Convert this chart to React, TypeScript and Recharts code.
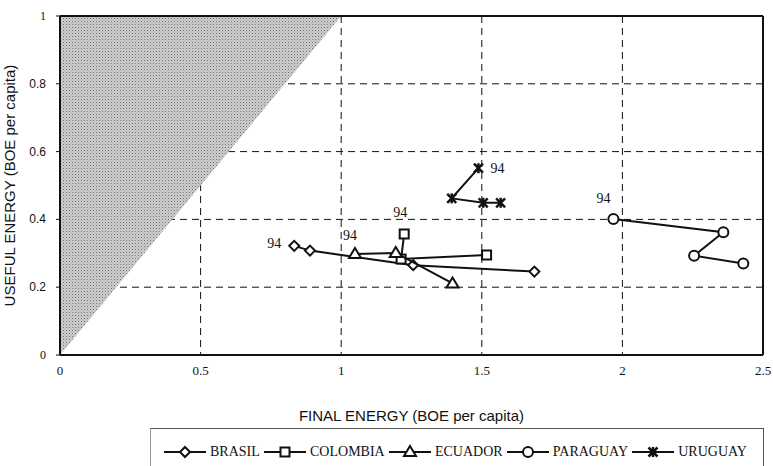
import React from 'react';
import { ComposedChart, Scatter, Area, XAxis, YAxis, CartesianGrid, ReferenceLine, Label } from 'recharts';

// ---- data ----
const brasilX = [0.833, 0.889, 1.256, 1.687];
const brasilY = [0.322, 0.308, 0.265, 0.246];
const colombiaX = [1.224, 1.213, 1.517];
const colombiaY = [0.357, 0.283, 0.295];
const ecuadorX = [1.049, 1.194, 1.396];
const ecuadorY = [0.298, 0.301, 0.211];
const paraguayX = [1.968, 2.359, 2.255, 2.43];
const paraguayY = [0.401, 0.362, 0.293, 0.27];
const uruguayX = [1.488, 1.393, 1.505, 1.567];
const uruguayY = [0.551, 0.462, 0.449, 0.449];
const firstLabel = '94';

const triangleX = [0, 1];
const triangleLow = [0, 1];
const triangleHigh = [1, 1];

const xTicks = [0, 0.5, 1, 1.5, 2, 2.5];
const yTicks = [0, 0.2, 0.4, 0.6, 0.8, 1];

const toPoints = (xs: number[], ys: number[]) =>
  xs.map((x, i) => ({ x, y: ys[i], label: i === 0 ? firstLabel : '' }));

const triangleData = triangleX.map((x, i) => ({ x, band: [triangleLow[i], triangleHigh[i]] }));

type Kind = 'diamond' | 'square' | 'triangle' | 'circle' | 'star';

const series: { name: string; kind: Kind; data: any[]; ldx: number; ldy: number }[] = [
  { name: 'BRASIL', kind: 'diamond', data: toPoints(brasilX, brasilY), ldx: -20, ldy: 2 },
  { name: 'COLOMBIA', kind: 'square', data: toPoints(colombiaX, colombiaY), ldx: -4, ldy: -17 },
  { name: 'ECUADOR', kind: 'triangle', data: toPoints(ecuadorX, ecuadorY), ldx: -5, ldy: -14 },
  { name: 'PARAGUAY', kind: 'circle', data: toPoints(paraguayX, paraguayY), ldx: -10, ldy: -16 },
  { name: 'URUGUAY', kind: 'star', data: toPoints(uruguayX, uruguayY), ldx: 19, ldy: 5 },
];

const INK = '#111';

function Marker({ kind, cx, cy }: { kind: Kind; cx: number; cy: number }) {
  const sw = 2;
  switch (kind) {
    case 'diamond':
      return <polygon points={`${cx},${cy - 5} ${cx + 5},${cy} ${cx},${cy + 5} ${cx - 5},${cy}`} fill="#fff" stroke={INK} strokeWidth={sw} />;
    case 'square':
      return <rect x={cx - 4.5} y={cy - 4.5} width={9} height={9} fill="#fff" stroke={INK} strokeWidth={sw} />;
    case 'triangle':
      return <polygon points={`${cx},${cy - 6} ${cx + 6},${cy + 4} ${cx - 6},${cy + 4}`} fill="#fff" stroke={INK} strokeWidth={sw} />;
    case 'circle':
      return <circle cx={cx} cy={cy} r={5} fill="#fff" stroke={INK} strokeWidth={sw} />;
    case 'star':
      return (
        <g stroke={INK} strokeWidth={2.5}>
          <line x1={cx - 4.5} y1={cy - 4.5} x2={cx + 4.5} y2={cy + 4.5} />
          <line x1={cx - 4.5} y1={cy + 4.5} x2={cx + 4.5} y2={cy - 4.5} />
          <line x1={cx} y1={cy - 5} x2={cx} y2={cy + 5} />
        </g>
      );
  }
  return null;
}

const makeShape = (kind: Kind, ldx: number, ldy: number) => (props: any) => {
  const { cx, cy, payload } = props;
  if (cx == null || cy == null) return <g />;
  return (
    <g>
      <Marker kind={kind} cx={cx} cy={cy} />
      {payload && payload.label ? (
        <text x={cx + ldx} y={cy + ldy} textAnchor="middle" fontFamily="'Liberation Serif', serif" fontSize={14} fill={INK}>
          {payload.label}
        </text>
      ) : null}
    </g>
  );
};

const YTick = (props: any) => {
  const { x, y, payload } = props;
  const v = payload.value;
  const serif = v === 0 || v === 1;
  return (
    <text x={x} y={y} dy={4} textAnchor="end" fontSize={12} fill={INK}
      fontFamily={serif ? "'Liberation Serif', serif" : "'Liberation Sans', Arial, sans-serif"}>
      {String(v)}
    </text>
  );
};

const XTick = (props: any) => {
  const { x, y, payload } = props;
  return (
    <text x={x} y={y} dy={10} textAnchor="middle" fontSize={13} fill={INK} fontFamily="'Liberation Serif', serif">
      {String(payload.value)}
    </text>
  );
};

function LegendItem({ name, kind }: { name: string; kind: Kind }) {
  return (
    <div style={{ display: 'flex', alignItems: 'center' }}>
      <svg width={44} height={16} style={{ display: 'block' }}>
        <line x1={1} y1={8} x2={43} y2={8} stroke={INK} strokeWidth={2} />
        <Marker kind={kind} cx={22} cy={8} />
      </svg>
      <span style={{ fontFamily: "'Liberation Serif', serif", fontSize: 14, color: INK, marginLeft: 3 }}>{name}</span>
    </div>
  );
}

export default function App() {
  return (
    <div style={{ position: 'relative', width: 773, height: 466, overflow: 'hidden', background: '#fff' }}>
      <style>{`body{margin:0;}`}</style>
      <ComposedChart width={773} height={466} margin={{ top: 16, right: 10, bottom: 41, left: 18 }}>
        <defs>
          <pattern id="dots" width={3} height={3} patternUnits="userSpaceOnUse">
            <rect width={3} height={3} fill="#cfcfcf" />
            <rect width={1} height={1} fill="#6f6f6f" />
            <rect x={1.5} y={1.5} width={1} height={1} fill="#9a9a9a" />
          </pattern>
        </defs>
        <CartesianGrid stroke={INK} strokeDasharray="7 5" strokeWidth={1} />
        <XAxis
          type="number"
          dataKey="x"
          domain={[0, 2.5]}
          ticks={xTicks}
          allowDataOverflow
          height={70}
          axisLine={{ stroke: INK, strokeWidth: 2 }}
          tickLine={false}
          tickSize={5}
          tickMargin={5}
          tick={<XTick />}
        >
          <Label value="FINAL ENERGY (BOE per capita)" position="insideBottom" offset={4}
            style={{ fontFamily: "'Liberation Sans', Arial, sans-serif", fontSize: 15, fill: INK }} />
        </XAxis>
        <YAxis
          type="number"
          dataKey="y"
          domain={[0, 1]}
          ticks={yTicks}
          allowDataOverflow
          width={42}
          axisLine={{ stroke: INK, strokeWidth: 2 }}
          tickLine={{ stroke: INK }}
          tickSize={4}
          tickMargin={10}
          tick={<YTick />}
        >
          <Label
            content={(p: any) => {
              const vb = p.viewBox || { x: 18, y: 16, height: 339 };
              const cx = 15;
              const cy = vb.y + vb.height / 2;
              return (
                <text x={cx} y={cy} transform={`rotate(-90 ${cx} ${cy})`} textAnchor="middle"
                  fontFamily="'Liberation Sans', Arial, sans-serif" fontSize={15} fill={INK}>
                  USEFUL ENERGY (BOE per capita)
                </text>
              );
            }}
          />
        </YAxis>
        <Area data={triangleData} dataKey="band" type="linear" stroke="none" fill="url(#dots)" fillOpacity={1} isAnimationActive={false} />
        <ReferenceLine y={1} stroke={INK} strokeWidth={2} />
        <ReferenceLine x={2.5} stroke={INK} strokeWidth={2} />
        {series.map((s) => (
          <Scatter
            key={s.name}
            name={s.name}
            data={s.data}
            dataKey="y"
            line={{ stroke: INK, strokeWidth: 2 }}
            lineType="joint"
            shape={makeShape(s.kind, s.ldx, s.ldy)}
            isAnimationActive={false}
          />
        ))}
      </ComposedChart>
      <div
        style={{
          position: 'absolute', left: 150, top: 428, width: 614, height: 60,
          borderTop: '1px solid #555', borderLeft: '1px solid #999', borderRight: '1px solid #555',
          display: 'flex', justifyContent: 'space-between', alignItems: 'flex-start',
          padding: '15px 16px 0 12px', boxSizing: 'border-box',
        }}
      >
        {series.map((s) => (
          <LegendItem key={s.name} name={s.name} kind={s.kind} />
        ))}
      </div>
    </div>
  );
}
